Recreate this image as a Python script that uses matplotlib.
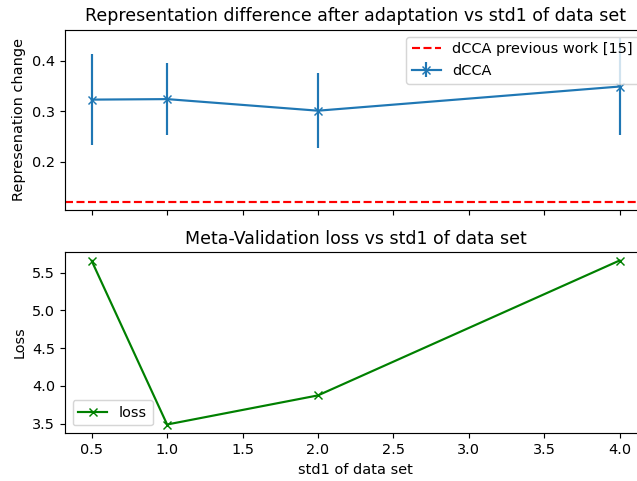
import matplotlib
matplotlib.use("Agg")
import matplotlib.pyplot as plt

std1 = [0.5, 1.0, 2.0, 4.0]
rep_change = [0.323, 0.324, 0.301, 0.349]
rep_err = [0.091, 0.072, 0.074, 0.097]
prev_work = 0.12
loss = [5.655, 3.49, 3.875, 5.66]

W, H = 637, 481
DPI = 104
fig = plt.figure(figsize=(W / DPI, H / DPI), dpi=DPI)

def px_rect(left, top, right, bottom):
    return [left / W, (H - bottom) / H, (right - left) / W, (bottom - top) / H]

ax1 = fig.add_axes(px_rect(65.3, 29.5, 646, 210))
ax2 = fig.add_axes(px_rect(65.3, 252.3, 646, 432.7), sharex=ax1)

ax1.axhline(prev_work, color='red', linestyle='--', label='dCCA previous work [15]')
ax1.errorbar(std1, rep_change, yerr=rep_err, marker='x', label='dCCA')
ax1.set_title('Representation difference after adaptation vs std1 of data set')
ax1.set_ylabel('Represenation change')
ax1.legend(loc='upper right')
ax1.tick_params(labelbottom=False)

ax2.plot(std1, loss, color='green', marker='x', label='loss')
ax2.set_title('Meta-Validation loss vs std1 of data set')
ax2.set_ylabel('Loss')
ax2.set_xlabel('std1 of data set')
ax2.legend(loc='lower left')

fig.savefig('out.png', dpi=DPI)
